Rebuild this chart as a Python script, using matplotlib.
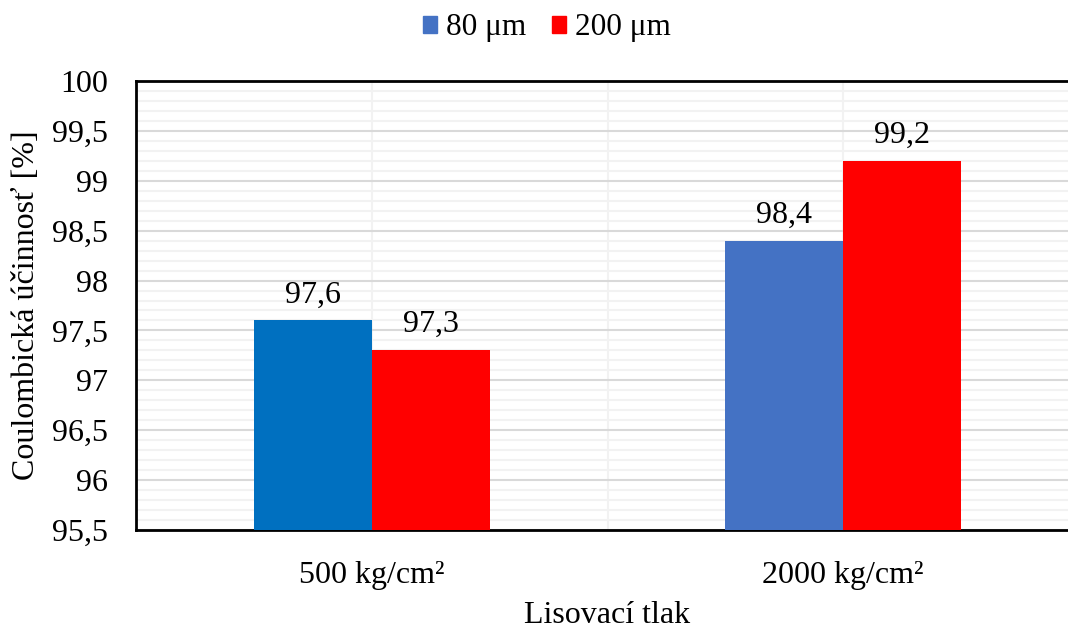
import numpy as np
import matplotlib.pyplot as plt
from matplotlib.ticker import MultipleLocator, FuncFormatter
from matplotlib.patches import Patch

categories = ['500 kg/cm²', '2000 kg/cm²']
series_names = ['80 μm', '200 μm']
vals_80 = [97.6, 98.4]
vals_200 = [97.3, 99.2]
labels_80 = ['97,6', '98,4']
labels_200 = ['97,3', '99,2']

plt.rcParams['font.family'] = ['Liberation Serif', 'DejaVu Serif']
fs = 23

fig = plt.figure(figsize=(10.68, 6.30), dpi=100)
W, H = 1068, 630
ax = fig.add_axes([136 / W, 1 - 530 / H, (1079 - 136) / W, (530 - 81) / H])

x = np.arange(len(categories))
w = 0.25
b1 = ax.bar(x - w / 2, np.array(vals_80) - 95.5, w, bottom=95.5,
            color=['#0070C0', '#4472C4'], zorder=3)
b2 = ax.bar(x + w / 2, np.array(vals_200) - 95.5, w, bottom=95.5,
            color='#FF0000', zorder=3)

for bars, labs in ((b1, labels_80), (b2, labels_200)):
    for r, t in zip(bars, labs):
        ax.annotate(t, (r.get_x() + r.get_width() / 2, r.get_y() + r.get_height()),
                    xytext=(0, 8), textcoords='offset points',
                    ha='center', va='bottom', fontsize=fs)

ax.set_ylim(95.5, 100)
ax.set_xlim(-0.5, 1.5)
ax.yaxis.set_major_locator(MultipleLocator(0.5))
ax.yaxis.set_minor_locator(MultipleLocator(0.1))
ax.yaxis.set_major_formatter(FuncFormatter(lambda v, p: ('%g' % v).replace('.', ',')))
ax.set_xticks(x)
ax.set_xticklabels(categories)
ax.tick_params(axis='both', which='both', length=0, labelsize=fs)
ax.tick_params(axis='y', pad=20)
ax.tick_params(axis='x', pad=22)

ax.grid(which='minor', axis='y', color='#F2F2F2', lw=1.5, zorder=0)
ax.grid(which='major', axis='y', color='#D9D9D9', lw=1.5, zorder=1)
for xv in (0, 0.5, 1):
    ax.axvline(xv, color='#F2F2F2', lw=1.5, zorder=1)

for s in ('left', 'top', 'bottom'):
    ax.spines[s].set_linewidth(2)
    ax.spines[s].set_color('black')
ax.spines['right'].set_visible(False)

ax.set_ylabel('Coulombická účinnosť [%]', fontsize=fs, labelpad=8)
ax.set_xlabel('Lisovací tlak', fontsize=fs, labelpad=8)

handles = [Patch(color='#4472C4'), Patch(color='#FF0000')]
fig.legend(handles, series_names, loc='center', bbox_to_anchor=(547 / W, 1 - 28 / H),
           ncol=2, frameon=False, fontsize=22.5, handlelength=0.45, handleheight=0.45,
           handletextpad=0.3, columnspacing=0.8)

fig.savefig('out.png', dpi=100)
